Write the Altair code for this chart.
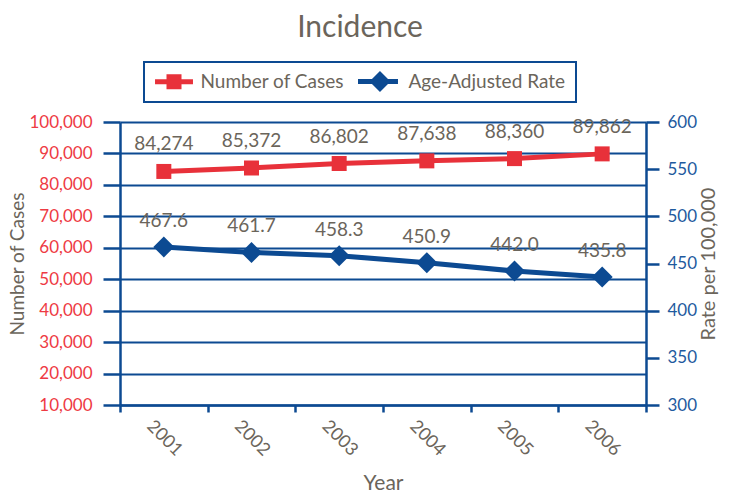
import altair as alt
import pandas as pd

years = ["2001", "2002", "2003", "2004", "2005", "2006"]
cases = [84274, 85372, 86802, 87638, 88360, 89862]
rates = [467.6, 461.7, 458.3, 450.9, 442.0, 435.8]
series = ["Number of Cases", "Age-Adjusted Rate"]
case_ticks = [10000, 20000, 30000, 40000, 50000, 60000, 70000, 80000, 90000, 100000]
rate_ticks = [300, 350, 400, 450, 500, 550, 600]

RED = "#e8313a"
BLUE = "#0c4a92"
RED_LBL = "#ee3a43"
BLUE_LBL = "#1e5a9e"
GRAY = "#6b655b"
FONT = "Lato"

df = pd.DataFrame({"Year": years, "Cases": cases, "Rate": rates})

SQ = "M-2.53,-0.33H2.53V0.33H-2.53Z M-1,-1H1V1H-1Z"
DI = "M-3.2,-0.33H2.13V0.33H-3.2Z M-0.27,-1.4L1.13,0L-0.27,1.4L-1.67,0Z"

legend = alt.Legend(
    title=None, orient="none", legendX=24, legendY=-60, direction="horizontal",
    padding=10, strokeColor=BLUE, labelFont=FONT, labelFontSize=19, labelColor=GRAY,
    symbolSize=225, symbolOffset=10.5, labelOffset=17, columnPadding=13,
    symbolStrokeWidth=0, symbolOpacity=1,
)

x = alt.X(
    "Year:O",
    scale=alt.Scale(type="band", paddingInner=0, paddingOuter=0),
    axis=alt.Axis(
        title="Year", tickBand="extent", labelAngle=45, labelAlign="center",
        labelBaseline="middle", labelPadding=26, tickSize=7, labelColor=GRAY,
        labelFontSize=18, titlePadding=13, grid=False,
    ),
)

y_cases = alt.Y(
    "Cases:Q",
    scale=alt.Scale(domain=[10000, 100000], nice=False, zero=False),
    axis=alt.Axis(
        title="Number of Cases", orient="left", values=case_ticks, format=",.0f",
        labelColor=RED_LBL, tickSize=17, labelPadding=11, grid=True,
        gridColor=BLUE, gridWidth=2, titlePadding=1, titleFontSize=19,
    ),
)

y_rate = alt.Y(
    "Rate:Q",
    scale=alt.Scale(domain=[300, 600], nice=False, zero=False),
    axis=alt.Axis(
        title="Rate per 100,000", orient="right", values=rate_ticks, format="d",
        labelColor=BLUE_LBL, tickSize=13, labelPadding=8, grid=False,
        titleAngle=270, titlePadding=22, titleFontSize=20,
    ),
)

base = alt.Chart(df).encode(x=x)

line_c = base.mark_line(color=RED, strokeWidth=5).encode(y=y_cases)
pts_c = base.mark_point(shape="square", filled=True, size=225, opacity=1, color=RED).encode(y=y_cases)
txt_c = base.mark_text(dy=-27, font=FONT, fontSize=19, color=GRAY, baseline="middle").encode(
    y=y_cases, text=alt.Text("Cases:Q", format=",")
)
# legend-only layer (no rows drawn; legend comes from the explicit scale domains)
leg = alt.Chart(df).transform_filter("false").transform_calculate(
    Series="'Number of Cases'"
).mark_point(filled=True, opacity=1).encode(
    color=alt.Color("Series:N", scale=alt.Scale(domain=series, range=[RED, BLUE]), legend=legend),
    shape=alt.Shape("Series:N", scale=alt.Scale(domain=series, range=[SQ, DI]), legend=legend),
)

line_r = base.mark_line(color=BLUE, strokeWidth=5).encode(y=y_rate)
pts_r = base.mark_point(shape="diamond", filled=True, size=441, opacity=1, color=BLUE).encode(y=y_rate)
txt_r = base.mark_text(dy=-26, font=FONT, fontSize=19, color=GRAY, baseline="middle").encode(
    y=y_rate, text=alt.Text("Rate:Q", format=".1f")
)

left = alt.layer(line_c, pts_c, txt_c)
right = alt.layer(line_r, pts_r, txt_r)


def build(legend_cfg):
    c = (
        alt.layer(left, right, leg)
        .resolve_scale(y="independent")
        .properties(
            width=526, height=283,
            title=alt.TitleParams("Incidence", font=FONT, fontSize=30, fontWeight="normal",
                                  color=GRAY, anchor="middle", dx=-23, offset=18),
            padding={"left": 112, "top": 114, "right": 76, "bottom": 88},
            autosize=alt.AutoSizeParams(type="none"),
        )
        .configure_axis(
            labelFont=FONT, titleFont=FONT, titleColor=GRAY, titleFontWeight="normal",
            domainColor=BLUE, domainWidth=2.5, tickColor=BLUE, tickWidth=2.5,
            labelFontSize=17, titleFontSize=21,
        )
        .configure_view(stroke=None)
    )
    if legend_cfg:
        c = c.configure_legend(**legend_cfg)
    return c


try:
    chart = build({"strokeWidth": 2})
    chart.to_dict()
except Exception:
    chart = build(None)

chart.save("out.html", embed_options={"renderer": "svg", "actions": False})
